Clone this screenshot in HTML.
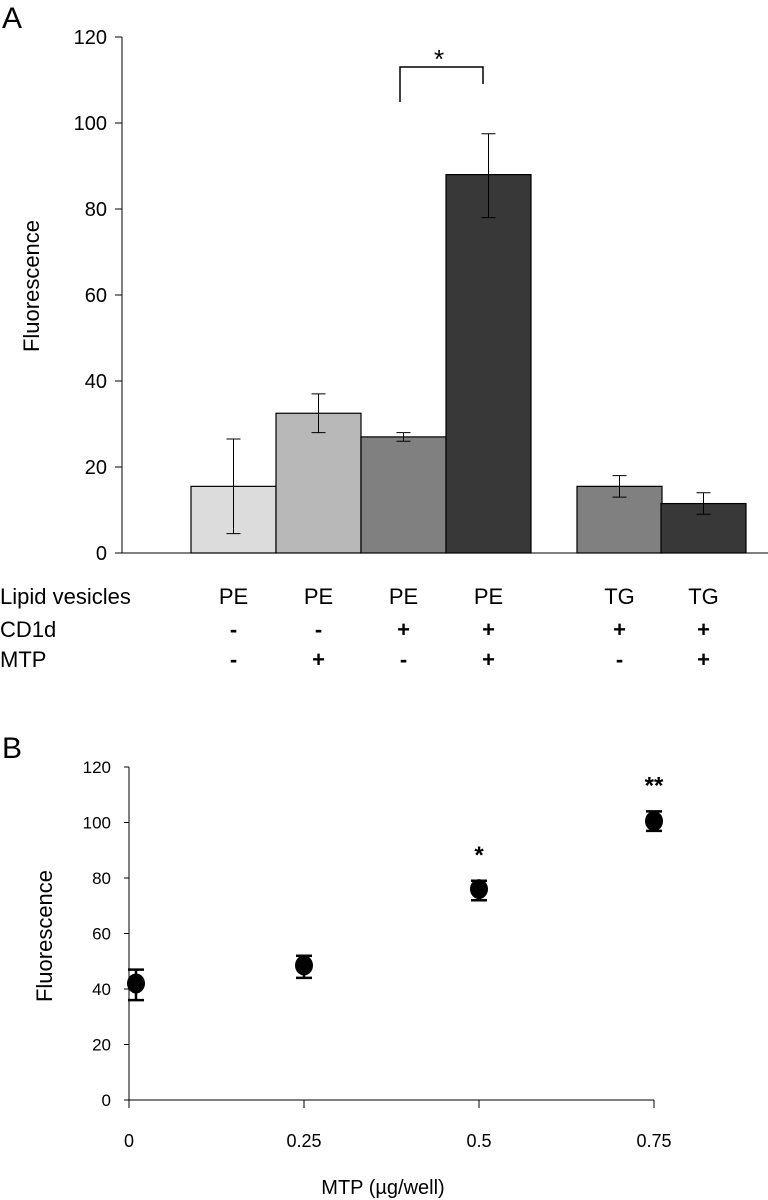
<!DOCTYPE html>
<html><head><meta charset="utf-8"><style>
body{margin:0;background:#fff;}
svg{display:block;font-family:"Liberation Sans",sans-serif;}
</style></head><body>
<svg id="c" width="768" height="1200">
<text x="2" y="28" font-size="30">A</text>
<text x="2" y="758" font-size="30">B</text>
<g id="A"></g><g id="B"></g>
</svg>
<script>
const barCats=["PE","PE","PE","PE","TG","TG"];
const barCD1d=["-","-","+","+","+","+"];
const barMTP=["-","+","-","+","-","+"];
const barVals=[15.5,32.5,27,88,15.5,11.5];
const barErrLo=[4.5,28,26,78,13,9];
const barErrHi=[26.5,37,28,97.5,18,14];
const barColors=["#dcdcdc","#b8b8b8","#808080","#383838","#808080","#383838"];
const aTicks=[0,20,40,60,80,100,120];
const ptX=[0.01,0.25,0.5,0.75];
const ptY=[42,48.5,76,100.5];
const ptLo=[36,44,72,97];
const ptHi=[47,52,79,104];
const ptStars=["","","*","**"];
const bTicksY=[0,20,40,60,80,100,120];
const bTicksX=[0,0.25,0.5,0.75];
const bTickLabels=["0","0.25","0.5","0.75"];

const NS="http://www.w3.org/2000/svg";
function mk(parent,tag,attrs,txt){const e=document.createElementNS(NS,tag);for(const k in attrs)e.setAttribute(k,attrs[k]);if(txt!==undefined)e.textContent=txt;parent.appendChild(e);return e;}
// Panel A
const A=document.getElementById('A');
const ay=v=>553-v*4.3;
const barLeft=[191,276,361,446,577,661];
const bw=85;
let e=mk(A,'line',{x1:122,y1:37,x2:122,y2:553,stroke:'#000'});

e=mk(A,'line',{x1:122,y1:553,x2:768,y2:553,stroke:'#000'});

aTicks.forEach(t=>{
 mk(A,'line',{x1:115,y1:ay(t),x2:122,y2:ay(t),stroke:'#000'});
 e=mk(A,'text',{x:107,y:ay(t)+7,'font-size':20,'text-anchor':'end'},t);
 
});
e=mk(A,'text',{x:0,y:0,'font-size':22,'text-anchor':'middle',transform:'translate(39,286) rotate(-90)'},'Fluorescence');

barVals.forEach((v,i)=>{
 const x=barLeft[i];
 e=mk(A,'rect',{x:x,y:ay(v),width:bw,height:553-ay(v),fill:barColors[i],stroke:'#000','stroke-width':1.2});
 
 const cx=x+bw/2;
 e=mk(A,'path',{d:`M${cx},${ay(barErrLo[i])}V${ay(barErrHi[i])}M${cx-7},${ay(barErrLo[i])}h14M${cx-7},${ay(barErrHi[i])}h14`,stroke:'#000',fill:'none'});
 
 e=mk(A,'text',{x:cx,y:604,'font-size':22,'text-anchor':'middle'},barCats[i]);
 
 e=mk(A,'text',{x:cx,y:637,'font-size':22,'text-anchor':'middle','font-weight':'bold'},barCD1d[i]);
 
 e=mk(A,'text',{x:cx,y:667,'font-size':22,'text-anchor':'middle','font-weight':'bold'},barMTP[i]);
 
});
[["Lipid vesicles",604],["CD1d",637],["MTP",667]].forEach(r=>{
 e=mk(A,'text',{x:0,y:r[1],'font-size':22},r[0]);
 
});
e=mk(A,'path',{d:'M400,102V67H483V84',stroke:'#000',fill:'none','stroke-width':1.5});

e=mk(A,'text',{x:439,y:68,'font-size':26,'text-anchor':'middle'},'*');

// Panel B
const B=document.getElementById('B');
const by=v=>1100-v*2.775;
const bx=v=>129+v*700;
e=mk(B,'line',{x1:129,y1:767,x2:129,y2:1107,stroke:'#000'});

e=mk(B,'line',{x1:124,y1:1100,x2:654,y2:1100,stroke:'#000'});

bTicksY.forEach(t=>{
 mk(B,'line',{x1:124,y1:by(t),x2:129,y2:by(t),stroke:'#000'});
 e=mk(B,'text',{x:111,y:by(t)+6,'font-size':17,'text-anchor':'end'},t);
 
});
bTicksX.forEach((t,i)=>{
 mk(B,'line',{x1:bx(t),y1:1100,x2:bx(t),y2:1108,stroke:'#000'});
 e=mk(B,'text',{x:bx(t),y:1147,'font-size':18,'text-anchor':'middle'},bTickLabels[i]);
 
});
e=mk(B,'text',{x:0,y:0,'font-size':22,'text-anchor':'middle',transform:'translate(52,936) rotate(-90)'},'Fluorescence');

e=mk(B,'text',{x:383,y:1194,'font-size':20,'text-anchor':'middle'},'MTP (µg/well)');

ptX.forEach((xv,i)=>{
 const cx=bx(xv);
 e=mk(B,'path',{d:`M${cx},${by(ptLo[i])}V${by(ptHi[i])}M${cx-8},${by(ptLo[i])}h16M${cx-8},${by(ptHi[i])}h16`,stroke:'#000','stroke-width':2.5,fill:'none'});
 
 e=mk(B,'ellipse',{cx:cx,cy:by(ptY[i]),rx:9,ry:10,fill:'#000'});
 
 if(ptStars[i]){
  e=mk(B,'text',{x:cx,y:by(ptHi[i])-18,'font-size':24,'font-weight':'bold','text-anchor':'middle'},ptStars[i]);
  
 }
});
</script>
</body></html>
